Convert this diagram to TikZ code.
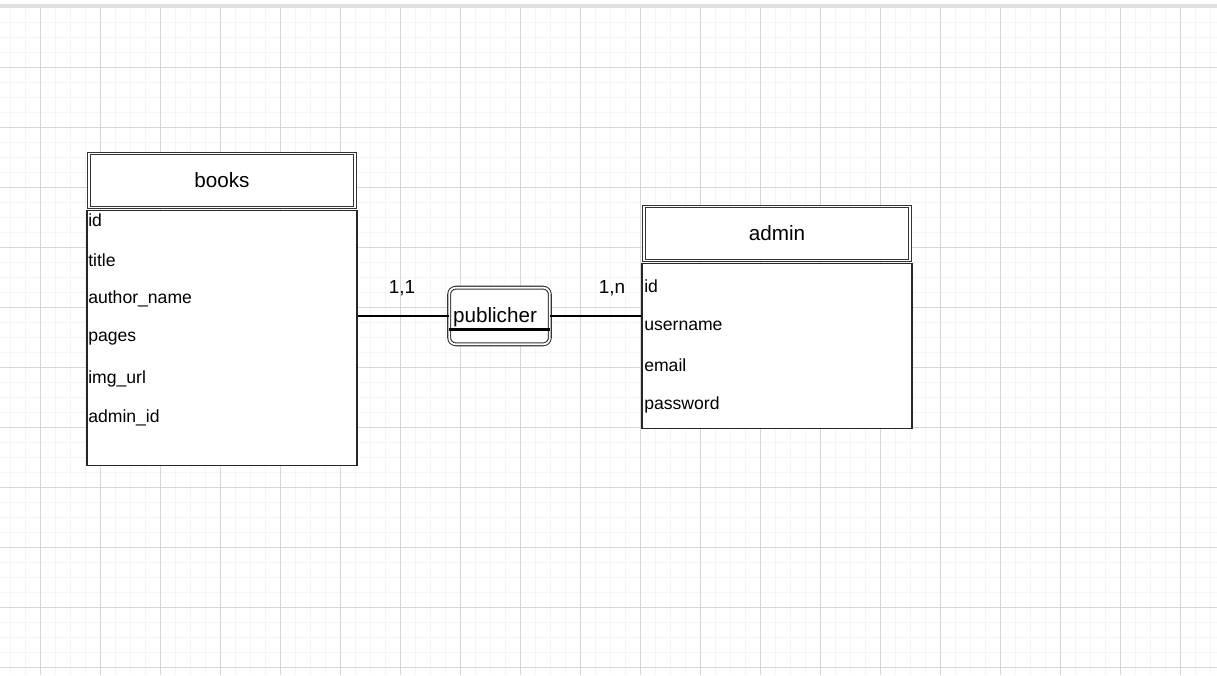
\documentclass[tikz,border=0pt]{standalone}
\usepackage{fontspec}
\setmainfont{Liberation Sans}
\usetikzlibrary{positioning}

\begin{document}
\begin{tikzpicture}[x=0.75pt, y=-0.75pt,
  entity/.style={draw=black!80, double, double distance=1.3pt, line width=0.8pt, fill=white,
    minimum width=199pt, minimum height=40.5pt, inner sep=0pt, font=\fontsize{15.5}{18}\selectfont},
  body/.style={draw=black!85, line width=1pt, fill=white, anchor=north, inner sep=0pt, minimum width=202.5pt},
  attr/.style={anchor=west, inner sep=0pt, font=\fontsize{13.2}{15}\selectfont},
  relation/.style={draw=black!80, double, double distance=1.3pt, line width=0.8pt, fill=white, rounded corners=5pt,
    minimum width=75.5pt, minimum height=42.5pt, inner sep=0pt, font=\fontsize{15.5}{18}\selectfont},
  card/.style={inner sep=0pt, font=\fontsize{14.2}{17}\selectfont},
  conn/.style={black, line width=2pt}]
\useasboundingbox (0,0) rectangle (1217,675);
% grid
\fill[black!12] (0,4) rectangle (1217,8);
\foreach \x in {10,25,...,1217} \draw[black!4, line width=0.6pt] (\x,8) -- (\x,675);
\foreach \y in {22,37,...,675} \draw[black!4, line width=0.6pt] (0,\y) -- (1217,\y);
\foreach \x in {40,100,...,1217} \draw[black!16, line width=0.6pt] (\x,8) -- (\x,675);
\foreach \y in {67,127,...,675} \draw[black!16, line width=0.6pt] (0,\y) -- (1217,\y);

% books
\node[body, minimum height=191.25pt] (booksbody) at (222,210) {};
\node[entity] (books) at (222,180.5) {books};
\node[attr] (bid) at (88,220) {id};
\node[attr] (btitle) at (88,260) {title};
\node[attr] (bauthor) at (88,299) {author\_name};
\node[attr] (bpages) at (88,339) {pages};
\node[attr] (bimg) at (88,379) {img\_url};
\node[attr] (badmin) at (88,418) {admin\_id};

% admin
\node[body, minimum height=123.75pt] (adminbody) at (777,263) {};
\node[entity] (admin) at (777,233.5) {admin};
\node[attr] (aid) at (644,286) {id};
\node[attr] (auser) at (644,326) {username};
\node[attr] (aemail) at (644,365) {email};
\node[attr] (apass) at (644,405) {password};

% relation
\node[relation] (pub) at (499.5,316) {};
\node[inner sep=0pt, font=\fontsize{15.5}{18}\selectfont] (publabel) at (495,317) {publicher};
\draw[conn] (booksbody.east |- pub.west) -- (pub.west);
\draw[conn] (pub.east) -- (adminbody.west |- pub.east);
\draw[conn] ([yshift=11.5pt]pub.south west) -- ([yshift=11.5pt]pub.south east);
\node[card] (c11) at (402,288) {1,1};
\node[card] (c1n) at (612,288) {1,n};
\end{tikzpicture}
\end{document}
